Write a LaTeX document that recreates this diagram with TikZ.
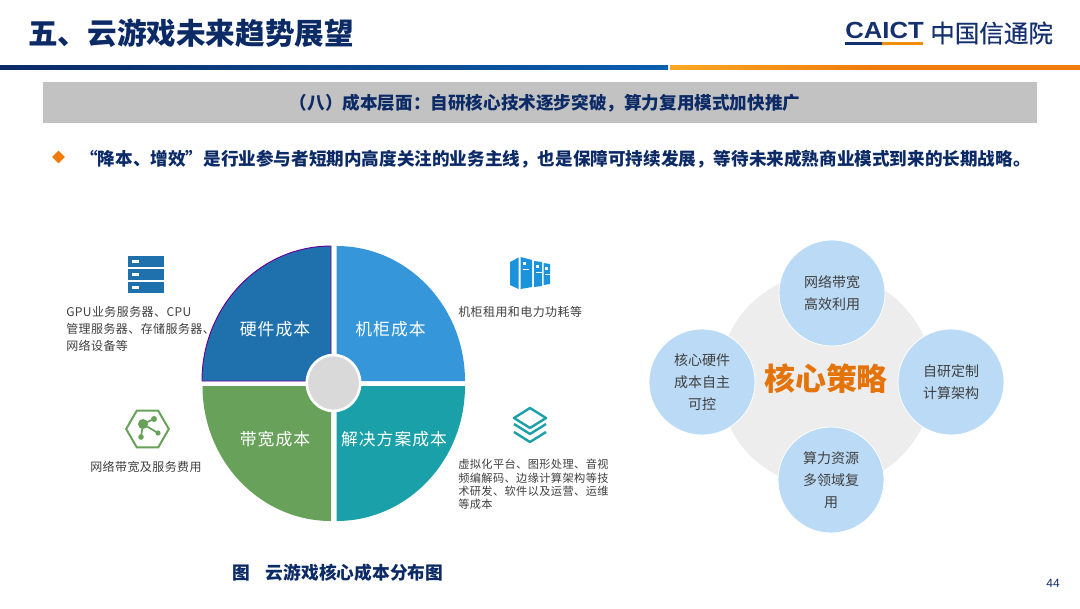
\documentclass[tikz,border=0pt]{standalone}
\usepackage{fontspec}
\setmainfont{Noto Sans CJK SC}
\newfontfamily\spacedcjk[LetterSpace=6]{Noto Sans CJK SC}
\newfontfamily\smallcjk[LetterSpace=3.5]{Noto Sans CJK SC}
\newfontfamily\solidcjk[FakeBold=0.5]{Noto Sans CJK SC}
\newfontfamily\latinbold{Liberation Sans}
\usetikzlibrary{shapes.geometric}
\definecolor{navy}{HTML}{0B2A66}
\definecolor{logoblue}{HTML}{14306E}
\definecolor{orangeline}{HTML}{F07A0A}
\definecolor{amberline}{HTML}{F9A825}
\definecolor{ruleblue}{HTML}{0A5FAF}
\definecolor{hardware}{HTML}{1F71AE}
\definecolor{cabinet}{HTML}{3596DA}
\definecolor{cabinetdark}{HTML}{1A93DC}
\definecolor{bandwidth}{HTML}{68A25A}
\definecolor{solution}{HTML}{1AA0A8}
\definecolor{bluecircle}{HTML}{BADAF5}
\tikzstyle{heading} = [text=navy,font=\bfseries\fontsize{13.2}{16}\selectfont,inner sep=0pt]
\tikzstyle{cost} = [text=white,font=\spacedcjk\fontsize{12.6}{15}\selectfont,inner sep=0pt]
\tikzstyle{note} = [text=black!75,font=\smallcjk\fontsize{9}{12.75}\selectfont,align=left,anchor=north west,inner sep=0pt]
\tikzstyle{strategy} = [circle,fill=bluecircle,draw=white,line width=0.6pt,minimum size=79.5pt,inner sep=0pt,align=center,text=black!75,font=\fontsize{10.5}{16.5}\selectfont]
\begin{document}
\begin{tikzpicture}[x=0.75pt,y=-0.75pt]
    \useasboundingbox (0,0) rectangle (1080,608);
    \fill[white] (0,0) rectangle (1080,608);
    % header
    \node[anchor=west,text=navy,inner sep=0pt,font=\bfseries\fontsize{22.2}{26}\selectfont] (title) at (28,33) {五、云游戏未来趋势展望};
    \node[anchor=west,text=logoblue,inner sep=0pt,font=\latinbold\bfseries\fontsize{17.5}{20}\selectfont,xscale=1.1] (caict) at (845,30) {CAICT};
    \fill[logoblue] (845,42) rectangle (882,44.7);
    \fill[orangeline!85!yellow] (882,42) rectangle (923,44.7);
    \node[anchor=west,text=logoblue,inner sep=0pt,font=\solidcjk\fontsize{18.4}{22}\selectfont] (caict name) at (930,33) {中国信通院};
    \shade[left color=navy,right color=ruleblue] (0,65) rectangle (668,69);
    \shade[left color=amberline,right color=orangeline,middle color=orangeline] (670,65) rectangle (1080,69);
    \fill[black!24] (43,82) rectangle (1037,123);
    \node[heading] (band) at (545,103) {（八）成本层面：自研核心技术逐步突破，算力复用模式加快推广};
    \node[diamond,fill=orangeline,minimum width=9.75pt,minimum height=9.75pt,inner sep=0pt,aspect=1] (bullet) at (58.5,157) {};
    \node[heading,anchor=west] (lead) at (80,159) {“降本、增效”是行业参与者短期内高度关注的业务主线，也是保障可持续发展，等待未来成熟商业模式到来的长期战略。};
    % cost pie
    \filldraw[fill=hardware,draw=violet!80!blue,line width=0.7pt] (331,381) -- (202,381) arc[start angle=180,end angle=270,x radius=129,y radius=135] -- cycle;
    \fill[cabinet] (336.5,381) -- (336.5,246) arc[start angle=270,end angle=360,x radius=128.5,y radius=135] -- cycle;
    \fill[bandwidth] (331,386) -- (331,521) arc[start angle=90,end angle=180,x radius=128.5,y radius=135] -- cycle;
    \fill[solution] (336.5,386) -- (465,386) arc[start angle=0,end angle=90,x radius=128.5,y radius=135] -- cycle;
    \node[ellipse,fill=black!15,draw=white,line width=2pt,minimum width=40pt,minimum height=42pt,inner sep=0pt] (hub) at (333.5,383) {};
    \foreach \pos/\name/\txt in {{(275,329)/hw/硬件成本}, {(390.5,329)/cab/机柜成本}, {(275,439)/bw/带宽成本}, {(394,439)/sol/解决方案成本}}
        \node[cost] (\name) at \pos {\txt};
    % notes beside the pie
    \node[note] (hw note) at (66,306) {GPU业务服务器、CPU\\管理服务器、存储服务器、\\网络设备等};
    \node[note] (cab note) at (458,306) {机柜租用和电力功耗等};
    \node[note] (bw note) at (90,461) {网络带宽及服务费用};
    \node[note,font=\smallcjk\fontsize{8.4}{10}\selectfont] (sol note) at (458,459) {虚拟化平台、图形处理、音视\\频编解码、边缘计算架构等技\\术研发、软件以及运营、运维\\等成本};
    \node[text=navy,anchor=west,inner sep=0pt,font=\bfseries\fontsize{13.3}{16}\selectfont] (caption) at (232,573) {图\hspace{0.9em}云游戏核心成本分布图};
    \node[text=navy,inner sep=0pt,font=\latinbold\fontsize{9}{11}\selectfont] (page) at (1053,583) {44};
    % server icon
    \foreach \y in {256,269,282}{
        \fill[hardware] (128,\y) rectangle (164,\y+11);
        \fill[white] (132,\y+4) rectangle (139,\y+7);
    }
    % cabinet icon
    \fill[cabinetdark] (510,262) -- (518.5,257.5) -- (518.5,289) -- (510,285) -- cycle;
    \fill[cabinetdark] (520.5,257) -- (532,260) -- (532,287) -- (520.5,289) -- cycle;
    \fill[cabinetdark] (534,261) -- (542,262) -- (542,286) -- (534,287) -- cycle;
    \fill[cabinetdark] (543.5,263) -- (550,264) -- (550,284) -- (543.5,285) -- cycle;
    \foreach \x/\y in {523/262, 536/265, 545/267}{
        \fill[white] (\x,\y) rectangle (\x+3,\y+3);
        \fill[white] (\x,\y+7) rectangle (\x+6,\y+8);
    }
    % network icon
    \node[regular polygon,regular polygon sides=6,draw=bandwidth,line width=1.5pt,minimum size=32pt,inner sep=0pt] (hexa) at (147.5,429) {};
    \coordinate (net hub) at (143,424);
    \fill[bandwidth] (net hub) circle[radius=5];
    \foreach \pos/\r in {(154,419)/3, (158,433)/2.6, (141,437)/2.8}{
        \draw[bandwidth,line width=1.3pt] (net hub) -- \pos;
        \fill[bandwidth] \pos circle[radius=\r];
    }
    % layers icon
    \draw[solution,line width=1.8pt,line join=round] (530,408) -- (546,418) -- (530,428) -- (514,418) -- cycle;
    \draw[solution,line width=1.8pt,line join=round] (514,424) -- (530,434) -- (546,424);
    \draw[solution,line width=1.8pt,line join=round] (514,432) -- (530,442) -- (546,432);
    % core strategy
    \fill[black!7] (826,380) circle[radius=107];
    \foreach \pos/\name/\txt in {{(832,293)/net/网络带宽\\高效利用}, {(951,382)/arch/自研定制\\计算架构}, {(702,382)/chip/核心硬件\\成本自主\\可控}, {(831,480)/reuse/算力资源\\多领域复\\用}}
        \node[strategy] (\name) at \pos {\txt};
    \node[text=orangeline!95!black,inner sep=0pt,font=\bfseries\fontsize{23.2}{28}\selectfont] (core) at (826,379) {核心策略};
\end{tikzpicture}
\end{document}
